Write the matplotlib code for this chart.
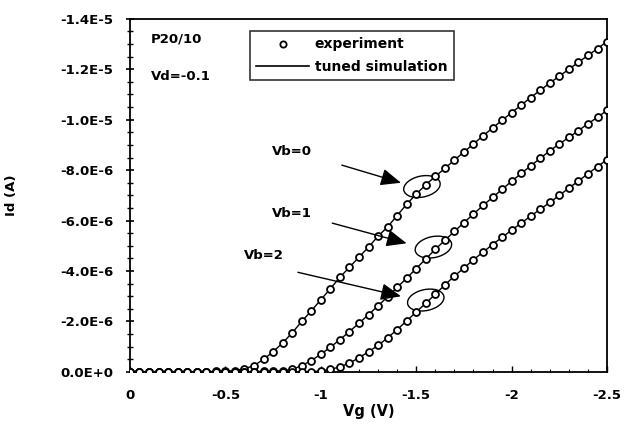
import numpy as np
import matplotlib.pyplot as plt
import matplotlib.transforms as mtransforms
from matplotlib.patches import Ellipse

# gate voltage, 0 to -2.5 V in 0.05 V steps
vg = [-0.05 * i for i in range(51)]

# |Id|, in 1E-6 A
id_vb0 = [0.0, 0.0, 0.0, 0.0, 0.0, 0.0, 0.0, 0.01, 0.01, 0.02, 0.03, 0.05,
          0.13, 0.25, 0.5, 0.8, 1.15, 1.55, 2.0, 2.42, 2.86, 3.3, 3.75, 4.15,
          4.55, 4.95, 5.38, 5.75, 6.2, 6.65, 7.05, 7.42, 7.75, 8.07, 8.4, 8.72,
          9.04, 9.36, 9.67, 9.98, 10.28, 10.58, 10.88, 11.17, 11.45, 11.73,
          12.0, 12.28, 12.55, 12.82, 13.1]
id_vb1 = [0.0, 0.0, 0.0, 0.0, 0.0, 0.0, 0.0, 0.0, 0.0, 0.0, 0.0, 0.0,
          0.01, 0.01, 0.02, 0.03, 0.05, 0.1, 0.25, 0.45, 0.7, 0.98, 1.28, 1.6,
          1.93, 2.27, 2.62, 2.98, 3.35, 3.72, 4.1, 4.48, 4.86, 5.22, 5.57, 5.92,
          6.26, 6.6, 6.92, 7.24, 7.56, 7.87, 8.17, 8.47, 8.77, 9.04, 9.3, 9.57,
          9.84, 10.1, 10.37]
id_vb2 = [0.0, 0.0, 0.0, 0.0, 0.0, 0.0, 0.0, 0.0, 0.0, 0.0, 0.0, 0.0,
          0.0, 0.0, 0.0, 0.0, 0.0, 0.0, 0.0, 0.01, 0.04, 0.1, 0.2, 0.35,
          0.56, 0.8, 1.05, 1.35, 1.68, 2.02, 2.38, 2.72, 3.08, 3.45, 3.8, 4.12,
          4.45, 4.75, 5.05, 5.34, 5.62, 5.9, 6.18, 6.45, 6.72, 7.0, 7.29, 7.57,
          7.86, 8.14, 8.42]

# the tuned simulation runs through the measured points
sim_vb0 = id_vb0
sim_vb1 = id_vb1
sim_vb2 = id_vb2

y_ticks = [0, -2e-6, -4e-6, -6e-6, -8e-6, -1e-5, -1.2e-5, -1.4e-5]
y_tick_labels = ['0.0E+0', '-2.0E-6', '-4.0E-6', '-6.0E-6', '-8.0E-6',
                 '-1.0E-5', '-1.2E-5', '-1.4E-5']
x_ticks = [0, -0.5, -1, -1.5, -2, -2.5]
x_tick_labels = ['0', '-0.5', '-1', '-1.5', '-2', '-2.5']

# label, text position, arrow tail, arrow tip, ellipse centre (data units)
notes = [('Vb=0', (-0.85, -8.75e-6), (-1.11, -8.2e-6), (-1.42, -7.5e-6), (-1.53, -7.35e-6)),
         ('Vb=1', (-0.85, -6.3e-6), (-1.06, -5.9e-6), (-1.45, -5.1e-6), (-1.59, -4.95e-6)),
         ('Vb=2', (-0.7, -4.6e-6), (-0.88, -3.95e-6), (-1.42, -3.0e-6), (-1.55, -2.85e-6))]

plt.rcParams['font.family'] = ['DejaVu Sans']
plt.rcParams['font.weight'] = 'bold'
plt.rcParams['font.size'] = 9.5

fig = plt.figure(figsize=(6.37, 4.28), dpi=100)
ax = fig.add_axes([0.204, 0.131, 0.749, 0.825])

x = np.array(vg)
for sim in [sim_vb0, sim_vb1, sim_vb2]:
    ax.plot(x, -np.array(sim) * 1e-6, color='black', lw=1.0, zorder=2)
for exp in [id_vb0, id_vb1, id_vb2]:
    ax.plot(x, -np.array(exp) * 1e-6, ls='none', marker='o', ms=5.0,
            mfc='white', mec='black', mew=1.3, zorder=3)

ax.set_xlim(0, -2.5)
ax.set_ylim(0, -1.4e-5)
ax.set_xticks(x_ticks)
ax.set_xticklabels(x_tick_labels)
ax.set_yticks(y_ticks)
ax.set_yticklabels(y_tick_labels)
ax.set_xticks(np.arange(0, -2.55, -0.1), minor=True)
ax.set_yticks(np.arange(0, -1.45e-5, -5e-7), minor=True)
ax.tick_params(axis='y', which='major', direction='inout', length=6, width=1.2, pad=9)
ax.tick_params(axis='y', which='minor', direction='inout', length=4, width=1)
ax.tick_params(axis='x', which='major', direction='in', length=4, width=1, pad=12)
ax.tick_params(axis='x', which='minor', direction='in', length=2, width=0.8)
for s in ax.spines.values():
    s.set_linewidth(1.3)

ax.set_xlabel('Vg (V)', fontsize=10.5, fontweight='bold', labelpad=2)
ax.set_ylabel('Id (A)', fontsize=9.5, fontweight='bold', labelpad=30)

ax.text(0.043, 0.96, 'P20/10', transform=ax.transAxes, va='top')
ax.text(0.043, 0.855, 'Vd=-0.1', transform=ax.transAxes, va='top')

# legend
h_exp, = ax.plot([], [], ls='none', marker='o', ms=4.5, mfc='white', mec='black', mew=1.3)
h_sim, = ax.plot([], [], color='black', lw=1.2)
leg = ax.legend([h_exp, h_sim], ['experiment', 'tuned simulation'],
                loc='upper left', bbox_to_anchor=(0.252, 0.965), frameon=True,
                fancybox=False, edgecolor='black', handlelength=3.8,
                borderpad=0.45, labelspacing=0.6, handletextpad=0.4,
                borderaxespad=0, fontsize=10)
leg.get_frame().set_linewidth(1.2)

for label, txt, tail, tip, centre in notes:
    ax.text(txt[0], txt[1], label, ha='center', va='center')
    ax.annotate('', xy=tip, xytext=tail,
                arrowprops=dict(arrowstyle='-|>,head_length=1.3,head_width=0.55',
                                color='black', lw=1.0, shrinkA=0, shrinkB=0))
    e = Ellipse((0, 0), 0.37, 0.21, angle=12, fill=False, ec='black', lw=1.0,
                transform=fig.dpi_scale_trans + mtransforms.ScaledTranslation(
                    centre[0], centre[1], ax.transData))
    ax.add_patch(e)

fig.savefig('out.png', dpi=100)
